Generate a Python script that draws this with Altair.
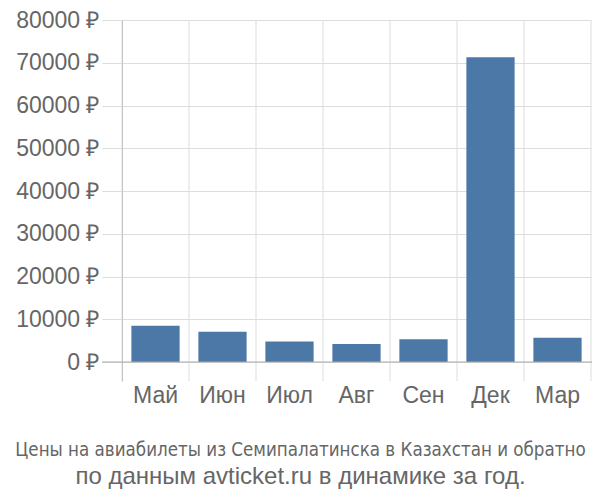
import altair as alt
import pandas as pd

months = ["Май", "Июн", "Июл", "Авг", "Сен", "Дек", "Мар"]
prices = [8500, 7100, 4800, 4200, 5300, 71300, 5700]
y_ticks = [0, 10000, 20000, 30000, 40000, 50000, 60000, 70000, 80000]
title_line1 = "Цены на авиабилеты из Семипалатинска в Казахстан и обратно"
title_line2 = "по данным avticket.ru в динамике за год."

df = pd.DataFrame({"month": months, "price": prices})
grid_df = pd.DataFrame({"month": months + [months[-1]], "pos": [0] * len(months) + [1]})

x_scale = alt.Scale(domain=months, paddingInner=0.28, paddingOuter=0.14)
grid_scale = alt.Scale(domain=months, paddingInner=0, paddingOuter=0)
y_scale = alt.Scale(domain=[-4444, 80000], nice=False, zero=False)

FONT = "Liberation Sans"

bars = alt.Chart(df).mark_bar(color="#4c78a8").encode(
    x=alt.X("month:N", scale=x_scale, sort=months,
            axis=alt.Axis(title=None, grid=False, ticks=False, domain=False, labelAngle=0,
                          labelFont=FONT, labelFontSize=23, labelColor="#666666",
                          labelPadding=3)),
    y=alt.Y("price:Q", scale=y_scale,
            axis=alt.Axis(title=None, values=y_ticks, grid=True, gridColor="#dddddd",
                          tickColor="#dddddd", tickSize=20, labelPadding=3,
                          domainColor="#aaaaaa", labelFont=FONT, labelFontSize=23,
                          labelColor="#666666", labelExpr="datum.value + ' ₽'")),
    y2=alt.datum(0),
)

vgrid_start = alt.Chart(grid_df[grid_df["pos"] == 0]).mark_rule(
    color="#dddddd", strokeWidth=1
).encode(x=alt.X("month:N", scale=grid_scale, sort=months, bandPosition=0, axis=None))

vgrid_end = alt.Chart(grid_df[grid_df["pos"] == 1]).mark_rule(
    color="#dddddd", strokeWidth=1
).encode(x=alt.X("month:N", scale=grid_scale, sort=months, bandPosition=1, axis=None))

vgrid = alt.layer(vgrid_start, vgrid_end)

zero_line = alt.Chart(pd.DataFrame({"v": [0]})).mark_rule(
    color="#aaaaaa", strokeWidth=1
).encode(y=alt.Y("v:Q", scale=y_scale), x=alt.value(-20), x2=alt.value(472))

chart = alt.layer(vgrid, alt.layer(bars, zero_line)).resolve_scale(x="independent").properties(
    width=469, height=361,
    autosize=alt.AutoSizeParams(type="none"),
    padding={"left": 114, "top": 12, "right": 1, "bottom": 119},
    title=alt.TitleParams(
        text=title_line1, subtitle=title_line2, orient="bottom", anchor="middle",
        dx=-56, offset=34,
        font="DejaVu Sans Condensed", fontSize=18.6, fontWeight="normal", color="#666666",
        subtitleFont=FONT, subtitleFontSize=24, subtitleColor="#666666",
        subtitlePadding=5,
    ),
).configure_view(stroke=None)

chart.save("out.html", embed_options={"renderer": "svg", "actions": False})
